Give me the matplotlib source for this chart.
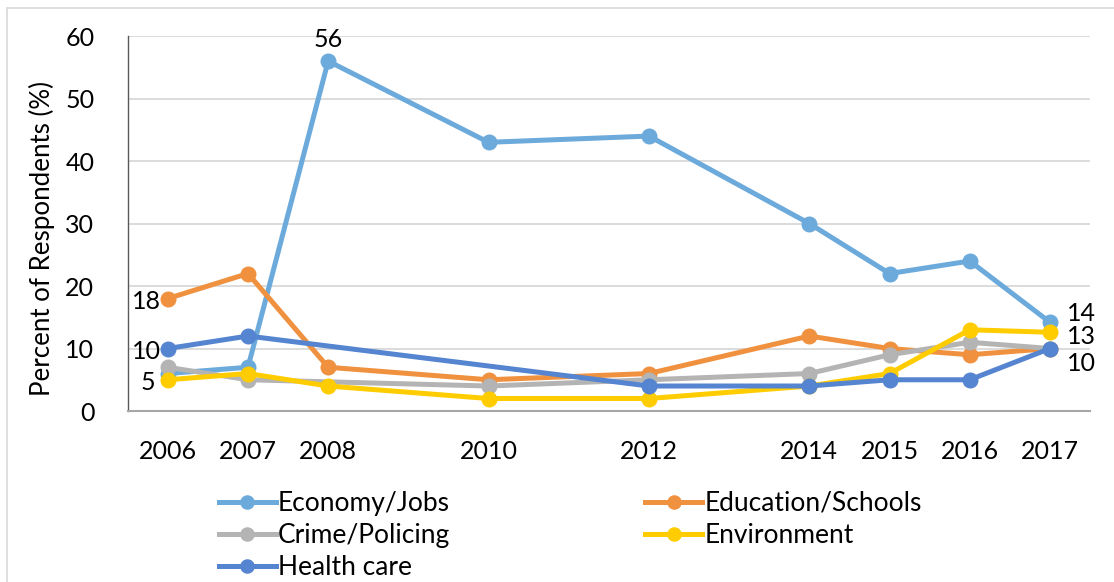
import matplotlib
matplotlib.use("Agg")
import matplotlib.pyplot as plt
from matplotlib.patches import Rectangle

plt.rcParams['font.family'] = ['Lato', 'DejaVu Sans']

# data
years = [2006, 2007, 2008, 2010, 2012, 2014, 2015, 2016, 2017]
economy = [6, 7, 56, 43, 44, 30, 22, 24, 14.2]
education = [18, 22, 7, 5, 6, 12, 10, 9, 10]
crime_years = [2006, 2007, 2010, 2012, 2014, 2015, 2016, 2017]
crime = [7, 5, 4, 5, 6, 9, 11, 10]
environment = [5, 6, 4, 2, 2, 4, 6, 13, 12.6]
health_years = [2006, 2007, 2012, 2014, 2015, 2016, 2017]
health = [10, 12, 4, 4, 5, 5, 10]

c_econ = '#6CAADC'
c_edu = '#F0913F'
c_crime = '#B4B4B4'
c_env = '#FFCC00'
c_health = '#5584D0'

fig = plt.figure(figsize=(11.14, 5.82), dpi=100)
ax = fig.add_axes([0.1146, 0.2938, 0.9785 - 0.1146, 0.938 - 0.2938])

style = dict(lw=3.6, marker='o', ms=10.5, solid_joinstyle='round')
l_econ, = ax.plot(years, economy, color=c_econ, label='Economy/Jobs', **style)
l_edu, = ax.plot(years, education, color=c_edu, label='Education/Schools', **style)
l_crime, = ax.plot(crime_years, crime, color=c_crime, label='Crime/Policing', **style)
l_env, = ax.plot(years, environment, color=c_env, label='Environment', **style)
l_health, = ax.plot(health_years, health, color=c_health, label='Health care', **style)

# data labels
fs = 18
ax.annotate('56', (years[2], economy[2]), xytext=(0, 7), textcoords='offset points',
            ha='center', va='bottom', fontsize=fs)
ax.annotate('18', (years[0], education[0]), xytext=(-5, -2), textcoords='offset points',
            ha='right', va='center', fontsize=fs)
ax.annotate('10', (health_years[0], health[0]), xytext=(-5, -2), textcoords='offset points',
            ha='right', va='center', fontsize=fs)
ax.annotate('5', (years[0], environment[0]), xytext=(-9, -2), textcoords='offset points',
            ha='right', va='center', fontsize=fs)
ax.annotate('14', (years[-1], economy[-1]), xytext=(12, 6.5), textcoords='offset points',
            ha='left', va='center', fontsize=fs)
ax.annotate('13', (years[-1], environment[-1]), xytext=(12, -3), textcoords='offset points',
            ha='left', va='center', fontsize=fs)
ax.annotate('10', (health_years[-1], health[-1]), xytext=(12, -11), textcoords='offset points',
            ha='left', va='center', fontsize=fs)

ax.set_xlim(2005.5, 2017.5)
ax.set_ylim(0, 60)
ax.set_xticks(years)
ax.set_xticklabels([str(y) for y in years])
ax.set_yticks(range(0, 61, 10))
ax.tick_params(axis='both', length=0, labelsize=fs)
ax.tick_params(axis='x', pad=21)
ax.tick_params(axis='y', pad=24)
ax.yaxis.grid(True, color='#D9D9D9', lw=1.3)
ax.set_axisbelow(True)
for s in ['top', 'right']:
    ax.spines[s].set_visible(False)
ax.spines['left'].set_color('#595959')
ax.spines['left'].set_linewidth(1.0)
ax.spines['bottom'].set_color('#A6A6A6')
ax.spines['bottom'].set_linewidth(1.5)

fig.text(42 / 1114, 1 - 239 / 582, 'Percent of Respondents (%)', rotation=90,
         ha='center', va='center', fontsize=18.6)

handles = [l_econ, l_crime, l_health, l_edu, l_env]
fig.legend(handles, [h.get_label() for h in handles], ncol=2, frameon=False,
           loc='upper left', bbox_to_anchor=(219 / 1114, 1 - 491 / 582),
           fontsize=19, borderpad=0, borderaxespad=0, handlelength=2.15,
           handletextpad=0.08, labelspacing=0.27, columnspacing=7.4,
           markerscale=0.9)

# chart frame
fig.patches.append(Rectangle((7 / 1114, -0.1), 1.2, 1.1 - 8 / 582, transform=fig.transFigure,
                             fill=False, edgecolor='#D9D9D9', lw=1.2))

fig.savefig('out.png', dpi=100)
